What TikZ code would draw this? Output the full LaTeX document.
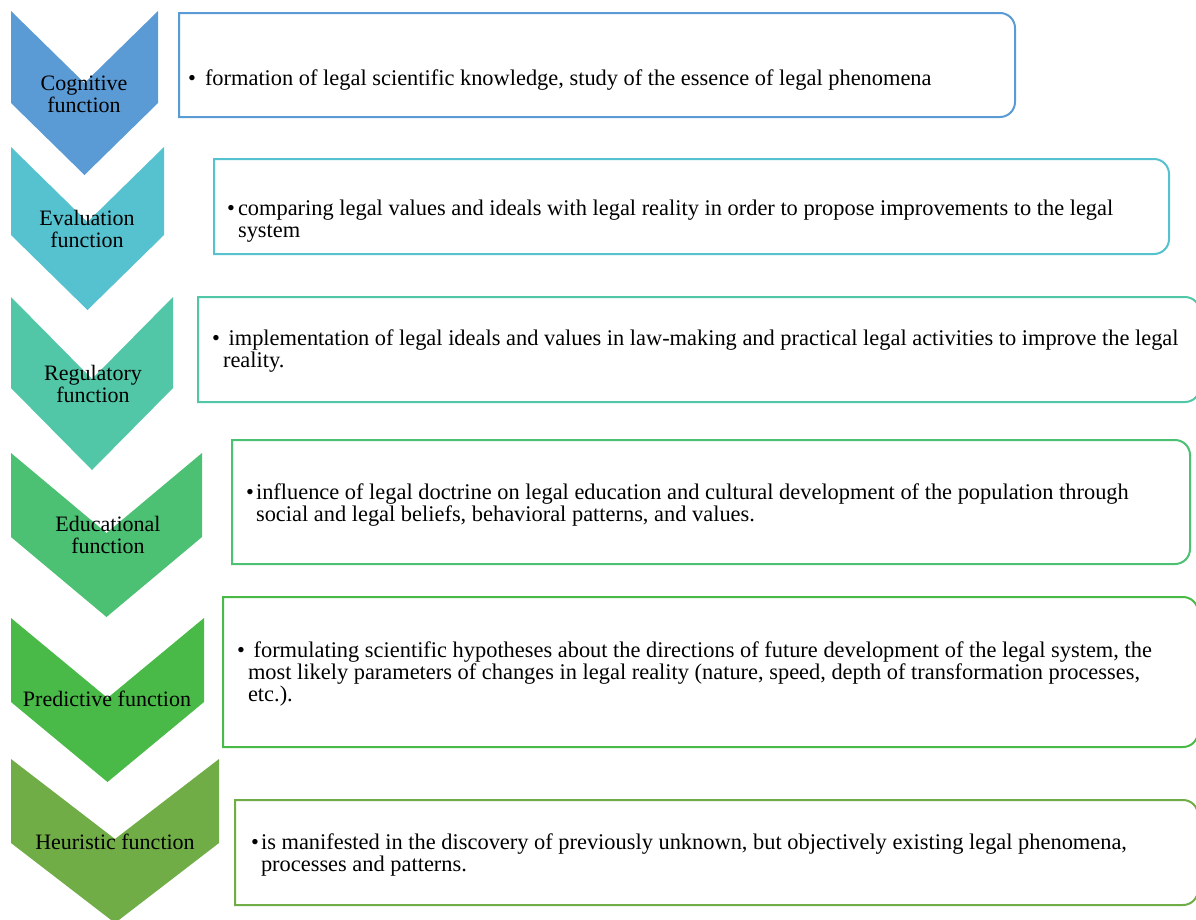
\documentclass[tikz,border=0pt]{standalone}
\usepackage{fontspec}
\setmainfont{Liberation Serif}
\usetikzlibrary{positioning}
\definecolor{cogblue}{RGB}{91,155,213}
\definecolor{evalteal}{RGB}{86,193,207}
\definecolor{regteal}{RGB}{82,199,168}
\definecolor{edugreen}{RGB}{76,192,115}
\definecolor{predgreen}{RGB}{73,186,71}
\definecolor{heurgreen}{RGB}{112,173,71}

\tikzset{
  chevlabel/.style={align=center, inner sep=0pt, font=\fontsize{22}{22}\selectfont},
  itemtext/.style={anchor=west, inner sep=0pt, font=\fontsize{22.4}{22}\selectfont},
  fnbox/.style={line width=2pt, fill=white}
}
\newcommand{\bulletlines}[2]{\begin{tabular}{@{}l@{\hspace{#1}}l@{}}\textbullet & #2\end{tabular}}

\begin{document}
\begin{tikzpicture}[x=1pt,y=-1pt]
        \useasboundingbox (0,0) rectangle (1196,919);

        % chevrons
        \fill[cogblue] (11,11) -- (84.5,83) -- (158,11) -- (158,103) -- (84.5,175) -- (11,103) -- cycle;
        \fill[evalteal] (11,147) -- (87.5,222) -- (164,147) -- (164,235) -- (87.5,310) -- (11,235) -- cycle;
        \fill[regteal] (11,297) -- (92,379) -- (173,297) -- (173,388) -- (92,470) -- (11,388) -- cycle;
        \fill[edugreen] (11,453) -- (106.5,533) -- (202,453) -- (202,537) -- (106.5,617) -- (11,537) -- cycle;
        \fill[predgreen] (11,618) -- (107.5,698) -- (204,618) -- (204,702) -- (107.5,782) -- (11,702) -- cycle;
        \fill[heurgreen] (11,759) -- (115,839) -- (219,759) -- (219,843) -- (115,923) -- (11,843) -- cycle;

        \node[chevlabel] (cog) at (84,94) {Cognitive\\function};
        \node[chevlabel] (eval) at (87,229) {Evaluation\\function};
        \node[chevlabel] (reg) at (93,384) {Regulatory\\function};
        \node[chevlabel] (edu) at (108,535) {Educational\\function};
        \node[chevlabel] (pred) at (107,699) {Predictive function};
        \node[chevlabel] (heur) at (115,842) {Heuristic function};

        % boxes, rounded on the right side only
        \draw[fnbox, draw=cogblue] (179,117) -- (179,13) [rounded corners=15pt] -- (1015,13) -- (1015,117) [sharp corners] -- cycle;
        \draw[fnbox, draw=evalteal] (214,254) -- (214,159) [rounded corners=15pt] -- (1169,159) -- (1169,254) [sharp corners] -- cycle;
        \draw[fnbox, draw=regteal] (198,402) -- (198,297) [rounded corners=15pt] -- (1200,297) -- (1200,402) [sharp corners] -- cycle;
        \draw[fnbox, draw=edugreen] (232,564) -- (232,440) [rounded corners=15pt] -- (1190,440) -- (1190,564) [sharp corners] -- cycle;
        \draw[fnbox, draw=predgreen] (223,747) -- (223,597) [rounded corners=15pt] -- (1198,597) -- (1198,747) [sharp corners] -- cycle;
        \draw[fnbox, draw=heurgreen] (235,905) -- (235,800) [rounded corners=15pt] -- (1198,800) -- (1198,905) [sharp corners] -- cycle;

        \node[itemtext] (cogtxt) at (188,81) {\bulletlines{9pt}{formation of legal scientific knowledge, study of the essence of legal phenomena}};
        \node[itemtext] (evaltxt) at (227,222) {\bulletlines{3pt}{comparing legal values and ideals with legal reality in order to propose improvements to the legal\\ & system}};
        \node[itemtext] (regtxt) at (212,352) {\bulletlines{3pt}{\ implementation of legal ideals and values in law-making and practical legal activities to improve the legal\\ & reality.}};
        \node[itemtext] (edutxt) at (246,506) {\bulletlines{2pt}{influence of legal doctrine on legal education and cultural development of the population through\\ & social and legal beliefs, behavioral patterns, and values.}};
        \node[itemtext] (predtxt) at (237,675) {\bulletlines{3pt}{\ formulating scientific hypotheses about the directions of future development of the legal system, the\\ & most likely parameters of changes in legal reality (nature, speed, depth of transformation processes,\\ & etc.).}};
        \node[itemtext] (heurtxt) at (251,856) {\bulletlines{2pt}{is manifested in the discovery of previously unknown, but objectively existing legal phenomena,\\ & processes and patterns.}};

    \end{tikzpicture}
\end{document}
